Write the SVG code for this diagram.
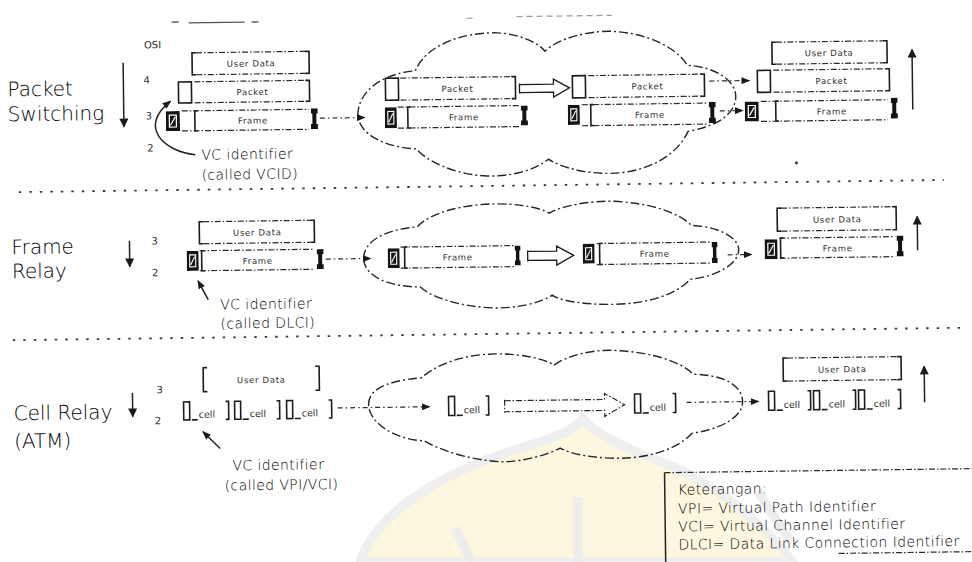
<svg xmlns="http://www.w3.org/2000/svg" width="972" height="562" viewBox="0 0 972 562">
<style>
.t{font-family:"DejaVu Sans","Liberation Sans",sans-serif;fill:#2e2e2e}
.big{font-size:20px;font-weight:200;fill:#000}
.num{font-size:10px}
.bx{font-size:8.5px;letter-spacing:0.7px;text-anchor:middle}
.cl{font-size:9.5px}
.vc{font-size:14px;letter-spacing:0.4px;font-weight:200;fill:#000}
.lg{font-size:14px;letter-spacing:0.4px;font-weight:200;fill:#000}
.br{fill:none;stroke:#1c1c1c;stroke-width:1.6}
.dl{fill:none;stroke:#2a2a2a;stroke-width:1.2;stroke-dasharray:6 2 1.5 2}
.cloud{fill:none;stroke:#262626;stroke-width:1.4;stroke-dasharray:9 3 2 3}
.con{fill:none;stroke:#2a2a2a;stroke-width:1.2;stroke-dasharray:5 3 1.5 3}
.sol{fill:none;stroke:#222;stroke-width:1.5}
.div{fill:none;stroke:#3a3a3a;stroke-width:1.8;stroke-dasharray:2.5 8}
.ha{fill:none;stroke:#1c1c1c;stroke-width:1.3}
</style>
<defs>
<marker id="ah" viewBox="0 0 10 8" refX="9" refY="4" markerWidth="9" markerHeight="7" markerUnits="userSpaceOnUse" orient="auto"><path d="M0 0L10 4L0 8z" fill="#1a1a1a"/></marker>
<marker id="ahb" viewBox="0 0 10 10" refX="9" refY="5" markerWidth="10" markerHeight="9" markerUnits="userSpaceOnUse" orient="auto"><path d="M0 0L10 5L0 10z" fill="#1a1a1a"/></marker>
<symbol id="vcb" viewBox="0 0 12 20" preserveAspectRatio="none"><rect width="12" height="20" fill="#141414"/><path d="M3 4h6v12h-6z M4 14l4-8" fill="none" stroke="#fff" stroke-width="1.1"/></symbol>
<symbol id="mk" viewBox="0 0 7 20" preserveAspectRatio="none"><path d="M0 0h7v5h-1.5v10h1.5v5h-7v-5h1.5v-10h-1.5z" fill="#141414"/></symbol>
</defs>
<rect width="972" height="562" fill="#fff"/>
<g id="watermark" opacity="0.9">
<path d="M360 562C380 500 470 462 540 442C565 434 578 426 583 418C592 432 622 447 662 462C702 478 742 505 782 548L792 562Z" fill="#fdf7dc" stroke="#eeeeee" stroke-width="9"/>
<path d="M455 528L472 562M578 497V562M758 492L790 540" stroke="#ececec" stroke-width="9" fill="none"/>
</g>
<g transform="rotate(-0.75 486 281)">
<g id="decor">
<path d="M175 18H182M192 19H248M255 19H262" stroke="#555" stroke-width="1.3" fill="none"/>
<path d="M470 18H480M520 17H615" stroke="#999" stroke-width="1.2" stroke-dasharray="6 4" fill="none"/>
<path class="div" d="M20 186H945"/>
<path class="div" d="M12 334H960"/>
<circle cx="798" cy="167" r="1.4" fill="#222"/>
</g>
<g id="ps-label">
<text class="t big" x="10" y="90">Packet</text>
<text class="t big" x="10" y="115">Switching</text>
<text class="t num" x="147" y="44">OSI</text>
<text class="t num" x="146" y="79">4</text>
<text class="t num" x="148" y="115">3</text>
<text class="t num" x="149" y="147">2</text>
</g>
<g id="ps-src">
<path class="br" d="M199 49H195V71H199M308 49H312V71H308"/><path class="dl" d="M199 49H308M199 71H308"/>
<text class="t bx" x="254" y="63.5">User Data</text>
<rect class="br" x="181" y="78" width="13" height="21"/>
<path class="dl" d="M197 78H310M197 99H310"/><path class="br" d="M308 78H312V99H308"/>
<text class="t bx" x="255" y="92">Packet</text>
<use href="#vcb" x="168" y="107" width="14" height="20"/>
<path class="br" d="M200 107H197V127H200"/><path class="dl" d="M184 107H311M184 127H311"/>
<use href="#mk" x="313" y="106" width="7" height="21"/>
<text class="t bx" x="255" y="120.5">Frame</text>
<text class="t vc" x="203" y="156">VC identifier</text>
<text class="t vc" x="203" y="176">(called VCID)</text>
</g>
<g id="ps-net">
<path class="cloud" d="M360 114C360 90 385 72 418 70C430 42 470 32 500 33C520 34 540 42 548 52C560 40 590 32 615 33C650 35 680 50 690 68C720 70 740 85 738 102C736 120 715 130 690 134C678 160 645 175 612 175C585 175 562 168 550 160C535 172 510 177 488 176C455 174 428 160 418 148C388 146 362 134 360 114Z"/>
<rect class="br" x="388" y="77" width="13" height="22"/>
<path class="dl" d="M403 77H516M403 99H516"/><path class="br" d="M514 77H518V99H514"/>
<text class="t bx" x="460" y="91.5">Packet</text>
<use href="#vcb" x="387" y="106" width="12" height="21"/>
<path class="br" d="M413 106H410V127H413"/><path class="dl" d="M400 106H521M400 127H521"/>
<use href="#mk" x="523" y="106" width="7" height="20"/>
<text class="t bx" x="466" y="120">Frame</text>
<path class="ha" d="M522 84V94M522 85H556V80L572 89L556 98V93H522"/>
<rect class="br" x="575" y="77" width="13" height="22"/>
<path class="dl" d="M591 77H705M591 99H705"/><path class="br" d="M703 77H707V99H703"/>
<text class="t bx" x="650" y="91.5">Packet</text>
<use href="#vcb" x="570" y="106" width="12" height="20"/>
<path class="br" d="M596 106H593V127H596"/><path class="dl" d="M584 106H710M584 127H710"/>
<use href="#mk" x="711" y="105" width="7" height="21"/>
<text class="t bx" x="652" y="120">Frame</text>
</g>
<g id="ps-dst">
<path class="br" d="M779 46H775V68H779M886 46H890V68H886"/><path class="dl" d="M779 46H886M779 68H886"/>
<text class="t bx" x="832" y="60.5">User Data</text>
<rect class="br" x="760" y="74" width="13" height="22"/>
<path class="dl" d="M776 74H890M776 96H890"/><path class="br" d="M888 74H892V96H888"/>
<text class="t bx" x="834" y="88.5">Packet</text>
<use href="#vcb" x="747" y="105" width="14" height="20"/>
<path class="br" d="M781 105H778V125H781"/><path class="dl" d="M763 105H890M763 125H890"/>
<use href="#mk" x="893" y="103" width="7" height="21"/>
<text class="t bx" x="834" y="119">Frame</text>
</g>
<g id="fr-label">
<text class="t big" x="12" y="248">Frame</text>
<text class="t big" x="12" y="272">Relay</text>
<text class="t num" x="152" y="240">3</text>
<text class="t num" x="152" y="272">2</text>
</g>
<g id="fr-src">
<path class="br" d="M204 218H200V240H204M311 218H315V240H311"/><path class="dl" d="M204 218H311M204 240H311"/>
<text class="t bx" x="258" y="232.5">User Data</text>
<use href="#vcb" x="187" y="247" width="12" height="20"/>
<path class="br" d="M205 247H202V267H205"/><path class="dl" d="M200 247H315M200 267H315"/>
<use href="#mk" x="317" y="247" width="7" height="20"/>
<text class="t bx" x="258" y="261">Frame</text>
<text class="t vc" x="220" y="306">VC identifier</text>
<text class="t vc" x="220" y="325">(called DLCI)</text>
</g>
<g id="fr-net">
<path class="cloud" d="M364 257C364 240 385 228 418 226C430 212 465 204 495 204C520 204 540 208 550 214C562 207 590 202 615 203C650 205 680 215 692 228C722 230 740 242 739 254C738 268 715 280 690 282C676 298 645 306 612 306C585 306 560 302 552 296C540 304 515 309 492 308C458 306 430 296 420 286C392 286 364 276 364 257Z"/>
<use href="#vcb" x="388" y="247" width="12" height="20"/>
<path class="br" d="M408 246H405V267H408"/><path class="dl" d="M401 246H514M401 267H514"/>
<use href="#mk" x="515" y="246" width="6" height="20"/>
<text class="t bx" x="458" y="260">Frame</text>
<path class="ha" d="M528 251V262M528 252H557V247L574 256.5L557 266V261H528"/>
<use href="#vcb" x="583" y="245" width="12" height="20"/>
<path class="br" d="M603 245H600V266H603"/><path class="dl" d="M597 245H712M597 266H712"/>
<use href="#mk" x="712" y="245" width="6" height="21"/>
<text class="t bx" x="655" y="259">Frame</text>
</g>
<g id="fr-dst">
<path class="br" d="M782 212H778V235H782M893 212H897V235H893"/><path class="dl" d="M782 212H893M782 235H893"/>
<text class="t bx" x="838" y="227">User Data</text>
<use href="#vcb" x="765" y="243" width="13" height="20"/>
<path class="br" d="M784 242H781V262H784"/><path class="dl" d="M780 242H894M780 262H894"/>
<use href="#mk" x="897" y="241" width="7" height="21"/>
<text class="t bx" x="838" y="256">Frame</text>
</g>
<g id="cr-label">
<text class="t big" x="12" y="414">Cell Relay</text>
<text class="t big" x="12" y="442">(ATM)</text>
<text class="t num" x="155" y="389">3</text>
<text class="t num" x="153" y="420">2</text>
</g>
<g id="cr-src">
<path class="br" d="M206 364H202V388H206M314 364H318V388H314"/>
<text class="t bx" x="260" y="380">User Data</text>
<rect class="br" x="182" y="398" width="6" height="18"/><path class="br" d="M190 416H196M224 398H227V416H224"/><text class="t cl" x="197" y="414">cell</text>
<rect class="br" x="233" y="398" width="6" height="18"/><path class="br" d="M241 416H247M275 398H278V416H275"/><text class="t cl" x="248" y="414">cell</text>
<rect class="br" x="285" y="398" width="6" height="18"/><path class="br" d="M293 416H299M327 398H330V416H327"/><text class="t cl" x="300" y="414">cell</text>
<text class="t vc" x="230" y="467">VC identifier</text>
<text class="t vc" x="222" y="487">(called VPI/VCI)</text>
</g>
<g id="cr-net">
<path class="cloud" d="M367 403C367 390 380 380 420 377C440 360 470 354 495 354C520 354 545 360 553 366C565 357 590 351 612 352C650 354 680 364 692 377C725 378 741 390 741 405C741 420 720 432 690 436C675 452 645 460 620 460C590 460 568 455 558 449C545 456 520 462 500 462C465 460 435 448 422 440C390 438 367 420 367 403Z"/>
<rect class="br" x="447" y="396" width="6" height="19"/><path class="br" d="M455 415H461M484 396H487V415H484"/><text class="t cl" x="462" y="413">cell</text>
<path class="dl" d="M503 400V413M503 401H603V395L623 406.5L603 418V412H503"/>
<rect class="br" x="633" y="396" width="6" height="19"/><path class="br" d="M641 415H647M671 396H674V415H671"/><text class="t cl" x="648" y="413">cell</text>
</g>
<g id="cr-dst">
<path class="br" d="M786 362H782V385H786M896 362H900V385H896"/><path class="dl" d="M786 362H896M786 385H896"/>
<text class="t bx" x="841" y="377">User Data</text>
<rect class="br" x="767" y="395" width="6" height="19"/><path class="br" d="M775 414H781M806 395H809V414H806"/><text class="t cl" x="782" y="412">cell</text>
<rect class="br" x="812" y="395" width="6" height="19"/><path class="br" d="M820 414H826M851 395H854V414H851"/><text class="t cl" x="827" y="412">cell</text>
<rect class="br" x="857" y="395" width="6" height="19"/><path class="br" d="M865 414H871M896 395H899V414H896"/><text class="t cl" x="872" y="412">cell</text>
</g>
<g id="legend">
<path class="dl" d="M662 475H975M835 558H975"/>
<path class="sol" d="M662 475V575"/>
<text class="t lg" x="675" y="497">Keterangan:</text>
<text class="t lg" x="675" y="516">VPI= Virtual Path Identifier</text>
<text class="t lg" x="675" y="534">VCI= Virtual Channel Identifier</text>
<text class="t lg" x="675" y="552">DLCI= Data Link Connection Identifier</text>
</g>
<g id="connectors">
<path class="sol" d="M126 58V122" marker-end="url(#ahb)"/>
<path class="sol" d="M915 115V55" marker-end="url(#ahb)"/>
<path class="sol" d="M130 236V262" marker-end="url(#ahb)"/>
<path class="sol" d="M918 256V222" marker-end="url(#ahb)"/>
<path class="sol" d="M131 388V412" marker-end="url(#ahb)"/>
<path class="sol" d="M923 408V372" marker-end="url(#ahb)"/>
<path class="con" d="M322 116H367" marker-end="url(#ah)"/>
<path class="con" d="M712 84H752" marker-end="url(#ah)"/>
<path class="con" d="M722 114H745" marker-end="url(#ah)"/>
<path class="sol" d="M197 151C165 147 140 122 173 97" marker-end="url(#ah)"/>
<path class="con" d="M326 257H371" marker-end="url(#ah)"/>
<path class="con" d="M728 258H752" marker-end="url(#ah)"/>
<path class="sol" d="M208 296L198 277" marker-end="url(#ah)"/>
<path class="con" d="M336 406H428" marker-end="url(#ah)"/>
<path class="con" d="M685 405H757" marker-end="url(#ah)"/>
<path class="sol" d="M218 445L201 428" marker-end="url(#ah)"/>
</g>
</g>
</svg>
